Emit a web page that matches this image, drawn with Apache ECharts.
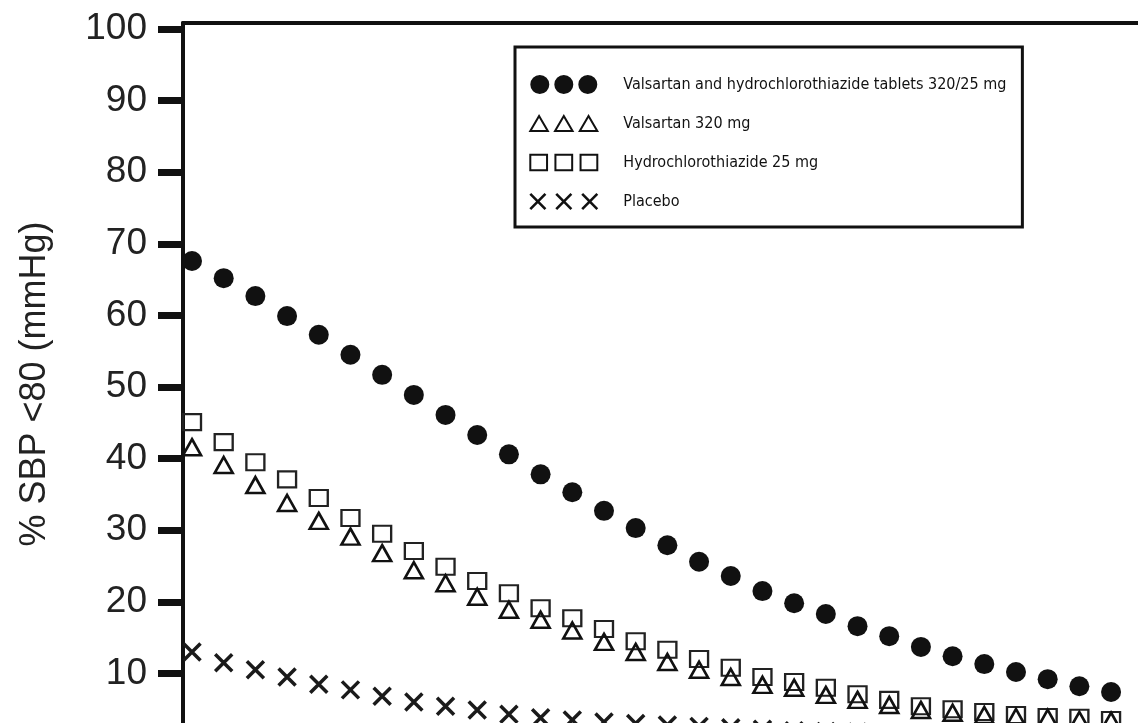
<!DOCTYPE html>
<html>
<head>
<meta charset="utf-8">
<script src="https://cdn.jsdelivr.net/npm/echarts@6/dist/echarts.min.js"></script>
<style>
html,body{margin:0;padding:0;background:#fff;}
#chart{width:1138px;height:723px;}
</style>
</head>
<body>
<div id="chart"></div>
<script>
// Data points (index of the x position along the axis)
const xIndex = [0,1,2,3,4,5,6,7,8,9,10,11,12,13,14,15,16,17,18,19,20,21,22,23,24,25,26,27,28,29];

const comboValues = [67.6,65.2,62.7,59.9,57.3,54.5,51.7,48.9,46.1,43.3,40.6,37.8,35.3,32.7,30.3,27.9,25.6,23.6,21.5,19.8,18.3,16.6,15.2,13.7,12.4,11.3,10.2,9.2,8.2,7.4];
const valsartanValues = [41.6,39.1,36.3,33.8,31.3,29.1,26.8,24.4,22.6,20.7,18.9,17.5,16.0,14.4,13.0,11.6,10.5,9.5,8.4,8.0,7.0,6.3,5.6,4.9,4.5,4.2,3.9,3.8,3.5,3.4];
const hctzValues = [45.1,42.3,39.5,37.1,34.5,31.7,29.5,27.1,24.9,22.9,21.2,19.1,17.7,16.2,14.5,13.3,12.0,10.8,9.5,8.8,8.0,7.1,6.3,5.4,5.0,4.6,4.2,3.9,3.8,3.5];
const placeboValues = [13.0,11.5,10.5,9.5,8.5,7.7,6.8,6.0,5.4,4.9,4.3,3.8,3.5,3.2,3.0,2.8,2.6,2.4,2.2,2.0,1.9,1.8,1.7,1.6,1.5,1.4,1.3,1.2,1.1,1.0];

const seriesNames = [
  'Valsartan and hydrochlorothiazide tablets 320/25 mg',
  'Valsartan 320 mg',
  'Hydrochlorothiazide 25 mg',
  'Placebo'
];
const yTickValues = [0,10,20,30,40,50,60,70,80,90,100];
const yAxisTitle = '% SBP <80 (mmHg)';

function pairs(vals){ return xIndex.map((x,i)=>[x, vals[i]]); }

const crossPath = 'path://M0,0L10,10M10,0L0,10';
const legendCircles = 'path://M0,9.5a9.5,9.5 0 1,0 19,0a9.5,9.5 0 1,0 -19,0Z M24,9.5a9.5,9.5 0 1,0 19,0a9.5,9.5 0 1,0 -19,0Z M48,9.5a9.5,9.5 0 1,0 19,0a9.5,9.5 0 1,0 -19,0Z';
const legendTriangles = 'path://M1,17L18,17L9.5,2.5Z M25,17L42,17L33.5,2.5Z M49,17L66,17L57.5,2.5Z';
const legendSquares = 'path://M1.5,2L17.5,2L17.5,17L1.5,17Z M25.5,2L41.5,2L41.5,17L25.5,17Z M49.5,2L65.5,2L65.5,17L49.5,17Z';
const legendCrosses = 'path://M2,2L16,16M16,2L2,16 M26,2L40,16M40,2L26,16 M50,2L64,16M64,2L50,16';

const chart = echarts.init(document.getElementById('chart'));
chart.setOption({
  animation: false,
  backgroundColor: '#fff',
  grid: { left: 183, right: 0, top: 23, bottom: -22, containLabel: false, outerBoundsMode: 'none' },
  legend: {
    orient: 'vertical',
    left: 515, top: 47,
    itemWidth: 67, itemHeight: 19, itemGap: 20,
    padding: [28, 16, 16, 14],
    borderColor: '#111', borderWidth: 3,
    selectedMode: false,
    textStyle: { fontFamily: '"Liberation Sans Narrow", "DejaVu Sans Condensed", sans-serif', fontSize: 16, color: '#111', padding: [0,0,0,21], lineHeight: 19 },
    data: [
      { name: seriesNames[0], icon: legendCircles, itemStyle: { color: '#111', borderWidth: 0, opacity: 1 } },
      { name: seriesNames[1], icon: legendTriangles, itemStyle: { color: 'transparent', borderColor: '#111', borderWidth: 2, opacity: 1 } },
      { name: seriesNames[2], icon: legendSquares, itemStyle: { color: 'transparent', borderColor: '#111', borderWidth: 2, opacity: 1 } },
      { name: seriesNames[3], icon: legendCrosses, itemStyle: { color: 'transparent', borderColor: '#111', borderWidth: 2.6, opacity: 1 } }
    ]
  },
  xAxis: {
    type: 'value', position: 'top',
    min: -0.284, max: 29.85,
    axisLine: { show: true, onZero: false, lineStyle: { color: '#111', width: 4 } },
    axisTick: { show: false }, axisLabel: { show: false }, splitLine: { show: false }
  },
  yAxis: {
    type: 'value', min: 0, max: 100.84,
    name: yAxisTitle, nameLocation: 'middle', nameGap: 130,
    nameTextStyle: { fontFamily: 'Liberation Sans, Arial, sans-serif', fontSize: 36, color: '#222' },
    axisLine: { show: true, onZero: false, lineStyle: { color: '#111', width: 4 } },
    axisTick: { show: true, length: 25, customValues: yTickValues, lineStyle: { color: '#111', width: 7 } },
    axisLabel: { show: true, margin: 36, customValues: yTickValues, fontFamily: 'Liberation Sans, Arial, sans-serif', fontSize: 37, color: '#222' },
    splitLine: { show: false }
  },
  series: [
    { name: seriesNames[2], type: 'scatter', silent: true, symbol: 'rect', symbolSize: [18,16], data: pairs(hctzValues),
      itemStyle: { color: 'transparent', borderColor: '#222', borderWidth: 2.2, opacity: 1 }, z: 2 },
    { name: seriesNames[1], type: 'scatter', silent: true, symbol: 'triangle', symbolSize: [18,16], data: pairs(valsartanValues),
      itemStyle: { color: 'transparent', borderColor: '#111', borderWidth: 2.6, opacity: 1 }, z: 3 },
    { name: seriesNames[0], type: 'scatter', silent: true, symbol: 'circle', symbolSize: 20, data: pairs(comboValues),
      itemStyle: { color: '#111', opacity: 1 }, z: 4 },
    { name: seriesNames[3], type: 'scatter', silent: true, symbol: crossPath, symbolSize: 17, data: pairs(placeboValues),
      itemStyle: { color: 'transparent', borderColor: '#1a1a1a', borderWidth: 3.5, opacity: 1 }, z: 4 }
  ]
});
</script>
</body>
</html>
